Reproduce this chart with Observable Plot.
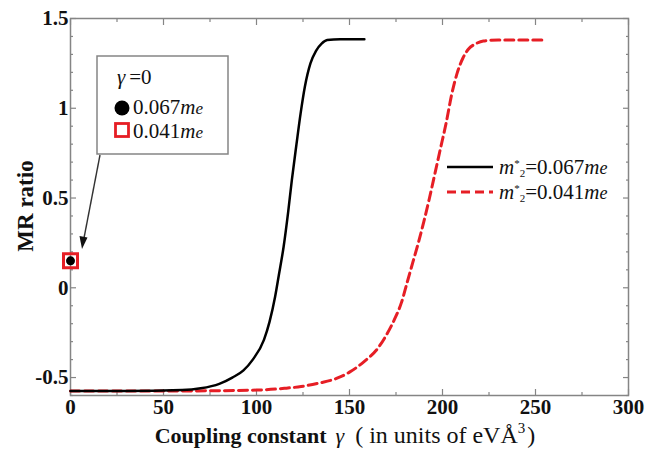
<!DOCTYPE html>
<html><head><meta charset="utf-8">
<script src="https://cdn.jsdelivr.net/npm/d3@7"></script>
<script src="https://cdn.jsdelivr.net/npm/@observablehq/plot@0.6"></script>
<style>body{margin:0;background:#fff;} #chart{width:660px;height:457px;}</style>
</head><body><div id="chart"></div>
<script>
// Series m2* = 0.067 me (solid black)
const gamma067 = [0, 30, 60, 70, 80, 87, 93, 98, 104, 107, 110, 112, 114.6, 117, 119, 121.5, 123.7, 126, 129, 132, 135, 138, 145, 158];
const mr067    = [-0.575, -0.575, -0.57, -0.56, -0.535, -0.5, -0.46, -0.4, -0.29, -0.19, -0.05, 0.07, 0.23, 0.42, 0.6, 0.8, 0.97, 1.12, 1.25, 1.32, 1.36, 1.38, 1.385, 1.385];
// Series m2* = 0.041 me (dashed red)
const gamma041 = [0, 50, 100, 115, 124, 134, 143, 150, 158, 165, 170, 174, 178, 181, 184, 187, 190, 193, 196, 199, 202, 205, 208, 211, 214, 218, 222, 230, 255];
const mr041    = [-0.575, -0.575, -0.57, -0.56, -0.55, -0.53, -0.505, -0.47, -0.41, -0.34, -0.26, -0.18, -0.08, 0.03, 0.14, 0.25, 0.37, 0.5, 0.64, 0.78, 0.92, 1.08, 1.2, 1.28, 1.33, 1.36, 1.375, 1.38, 1.38];
// gamma = 0 points
const gammaZero = [0];
const mrZero067 = [0.15];
const mrZero041 = [0.15];
// ticks
const xTicks = [0, 50, 100, 150, 200, 250, 300];
const xMinor = [25, 75, 125, 175, 225, 275];
const yTicks = [-0.5, 0, 0.5, 1, 1.5];
const yMinor = [-0.6, -0.4, -0.3, -0.2, -0.1, 0.1, 0.2, 0.3, 0.4, 0.6, 0.7, 0.8, 0.9, 1.1, 1.2, 1.3, 1.4];
const massLabels = ["0.067", "0.041"];

const RED = "#e61e25";
const GRAY = "#858585";
const FONT = "'Liberation Serif','Times New Roman',serif";

const line067 = gamma067.map((g, i) => ({g, mr: mr067[i]}));
const line041 = gamma041.map((g, i) => ({g, mr: mr041[i]}));
const pt067 = gammaZero.map((g, i) => ({g, mr: mrZero067[i]}));
const pt041 = gammaZero.map((g, i) => ({g, mr: mrZero041[i]}));

const tickAxis = (fn, ticks, anchor, size) => fn(ticks, {anchor, tickSize: -size, tickFormat: () => "", stroke: GRAY, strokeWidth: 1.2, label: null});

const plot = Plot.plot({
  width: 660, height: 457,
  marginLeft: 70, marginRight: 32, marginTop: 18, marginBottom: 62,
  x: {domain: [0, 300]},
  y: {domain: [-0.6, 1.5]},
  style: {fontFamily: FONT, background: "white", overflow: "visible"},
  marks: [
    tickAxis(Plot.axisX, xTicks, "bottom", 6),
    tickAxis(Plot.axisX, xMinor, "bottom", 3),
    tickAxis(Plot.axisX, xTicks, "top", 6),
    tickAxis(Plot.axisX, xMinor, "top", 3),
    tickAxis(Plot.axisY, yTicks, "left", 6),
    tickAxis(Plot.axisY, yMinor, "left", 3),
    tickAxis(Plot.axisY, yTicks, "right", 6),
    tickAxis(Plot.axisY, yMinor, "right", 3),
    Plot.axisX(xTicks, {anchor: "bottom", tickSize: 0, tickPadding: 4, fontSize: 21, fontWeight: "bold", fill: "#111", label: null}),
    Plot.axisY(yTicks, {anchor: "left", tickSize: 0, tickPadding: 2, fontSize: 21, fontWeight: "bold", fill: "#111", label: null, tickFormat: d => String(d)}),
    Plot.frame({stroke: GRAY, strokeWidth: 1.5}),
    Plot.line(line041, {x: "g", y: "mr", stroke: RED, strokeWidth: 3, strokeDasharray: "9,5", curve: "monotone-x"}),
    Plot.line(line067, {x: "g", y: "mr", stroke: "black", strokeWidth: 2.5, curve: "monotone-x"}),
    Plot.dot(pt041, {x: "g", y: "mr", symbol: "square", r: 7.9, stroke: RED, strokeWidth: 3, fill: "none"}),
    Plot.dot(pt067, {x: "g", y: "mr", r: 4.5, fill: "black"})
  ]
});
document.getElementById("chart").appendChild(plot);

const svg = d3.select(plot);
const g = svg.append("g").attr("font-family", FONT).attr("fill", "#111").attr("text-anchor", "start");

// Y axis label
g.append("text").attr("transform", "translate(33,206) rotate(-90)")
  .attr("text-anchor", "middle").attr("font-size", 23).attr("font-weight", "bold").text("MR ratio");

// X axis label
const xl = g.append("text").attr("x", 345).attr("y", 443).attr("text-anchor", "middle").attr("font-size", 22);
xl.append("tspan").attr("font-weight", "bold").text("Coupling constant");
xl.append("tspan").attr("dx", 9).attr("font-style", "italic").text("γ");
xl.append("tspan").attr("dx", 11).attr("font-size", 24).text("( in units of eVÅ");
xl.append("tspan").attr("font-size", 15).attr("dy", -10).text("3");
xl.append("tspan").attr("dy", 10).attr("dx", 2).attr("font-size", 24).text(")");

// Left legend box
g.append("rect").attr("x", 97).attr("y", 56).attr("width", 131).attr("height", 98)
  .attr("fill", "white").attr("stroke", GRAY).attr("stroke-width", 1.5);
const t0 = g.append("text").attr("x", 117).attr("y", 84).attr("font-size", 21);
t0.append("tspan").attr("font-style", "italic").text("γ");
t0.append("tspan").attr("dx", 4).text("=0");
g.append("circle").attr("cx", 122).attr("cy", 108).attr("r", 7.5).attr("fill", "black");
g.append("rect").attr("x", 115.5).attr("y", 123.5).attr("width", 13).attr("height", 13)
  .attr("fill", "white").attr("stroke", RED).attr("stroke-width", 2.8);
[[114, massLabels[0]], [138, massLabels[1]]].forEach(([y, lab]) => {
  const t = g.append("text").attr("x", 133).attr("y", y).attr("font-size", 21);
  t.append("tspan").text(lab);
  t.append("tspan").attr("font-style", "italic").text("m");
  t.append("tspan").attr("font-style", "italic").attr("font-size", 17).text("e");
});

// Arrow from legend box to the gamma=0 points
g.append("line").attr("x1", 100).attr("y1", 155).attr("x2", 84).attr("y2", 238)
  .attr("stroke", "#333").attr("stroke-width", 1.4);
g.append("path").attr("d", "M82,249 L79.5,236 L87.5,237.5 Z").attr("fill", "#111");

// Right legend
g.append("line").attr("x1", 447).attr("x2", 493).attr("y1", 167).attr("y2", 167)
  .attr("stroke", "black").attr("stroke-width", 2.5);
g.append("line").attr("x1", 447).attr("x2", 493).attr("y1", 192).attr("y2", 192)
  .attr("stroke", RED).attr("stroke-width", 3).attr("stroke-dasharray", "9,5");
[[173.5, massLabels[0]], [198.5, massLabels[1]]].forEach(([y, lab]) => {
  const t = g.append("text").attr("x", 499).attr("y", y).attr("font-size", 21);
  t.append("tspan").attr("font-style", "italic").text("m");
  t.append("tspan").attr("font-size", 11).attr("dy", -7).text("*");
  t.append("tspan").attr("font-size", 11).attr("dy", 10).text("2");
  t.append("tspan").attr("dy", -3).text("=" + lab);
  t.append("tspan").attr("font-style", "italic").text("m");
  t.append("tspan").attr("font-style", "italic").attr("font-size", 18).text("e");
});
</script>
</body></html>
